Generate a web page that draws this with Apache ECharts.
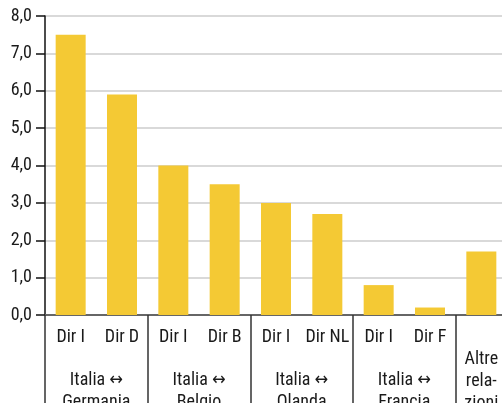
<!DOCTYPE html>
<html>
<head>
<meta charset="utf-8">
<script src="https://cdn.jsdelivr.net/npm/echarts@6/dist/echarts.min.js"></script>
<style>
  html, body { margin: 0; padding: 0; background: #fff; }
  #chart { width: 502px; height: 403px; }
</style>
</head>
<body>
<div id="chart"></div>
<script>
// bar labels (the last one is the "Altre relazioni" column)
const dirLabels = ['Dir I', 'Dir D', 'Dir I', 'Dir B', 'Dir I', 'Dir NL', 'Dir I', 'Dir F', '\nAltre\nrela-\nzioni'];
const values = [7.5, 5.9, 4.0, 3.5, 3.0, 2.7, 0.8, 0.2, 1.7];
const groupLabels = ['Italia ↔\nGermania', 'Italia ↔\nBelgio', 'Italia ↔\nOlanda', 'Italia ↔\nFrancia'];
const yMin = 0, yMax = 8, yStep = 1;

const FONT = '"Roboto Condensed", "DejaVu Sans Condensed", sans-serif';

// half-slot points (0..18) for the group row: labels at group centres, long dividers at group edges
const groupPoints = [];
for (let i = 0; i <= dirLabels.length * 2; i++) {
    groupPoints.push(i % 4 === 2 && i / 4 < groupLabels.length ? groupLabels[(i - 2) / 4] : '');
}

const myChart = echarts.init(document.getElementById('chart'));

myChart.setOption({
    animation: false,
    grid: { left: 45, right: -5, top: 16, bottom: 88, outerBoundsMode: 'none' },
    xAxis: [
        {
            type: 'category',
            data: dirLabels,
            axisLine: { lineStyle: { color: '#666', width: 2 } },
            axisTick: { length: 29, interval: 0, lineStyle: { color: '#444', width: 1.5 } },
            axisLabel: {
                interval: 0, margin: 11, fontFamily: FONT, fontSize: 18,
                color: '#1a1a1a', lineHeight: 22
            }
        },
        {
            type: 'category',
            data: groupPoints,
            boundaryGap: false,
            position: 'bottom',
            offset: 0,
            axisLine: { show: false },
            axisTick: {
                length: 90,
                interval: (i) => i % 4 === 0 && i < dirLabels.length * 2,
                lineStyle: { color: '#333', width: 1.5 }
            },
            axisLabel: {
                interval: 0, margin: 54, fontFamily: FONT, fontSize: 18,
                color: '#1a1a1a', lineHeight: 22
            }
        }
    ],
    yAxis: {
        type: 'value',
        min: yMin,
        max: yMax,
        interval: yStep,
        axisLine: { show: true, lineStyle: { color: '#111', width: 1.5 } },
        axisTick: { show: true, length: 9, lineStyle: { color: '#111', width: 1.5 } },
        axisLabel: {
            margin: 13, fontFamily: FONT, fontSize: 18, color: '#1a1a1a',
            formatter: v => v.toFixed(1).replace('.', ',')
        },
        splitLine: { lineStyle: { color: '#ccc', width: 1.5 } }
    },
    series: [
        {
            type: 'bar',
            xAxisIndex: 0,
            data: values,
            barWidth: 30,
            itemStyle: { color: '#F4C934' }
        }
    ]
});
</script>
</body>
</html>
